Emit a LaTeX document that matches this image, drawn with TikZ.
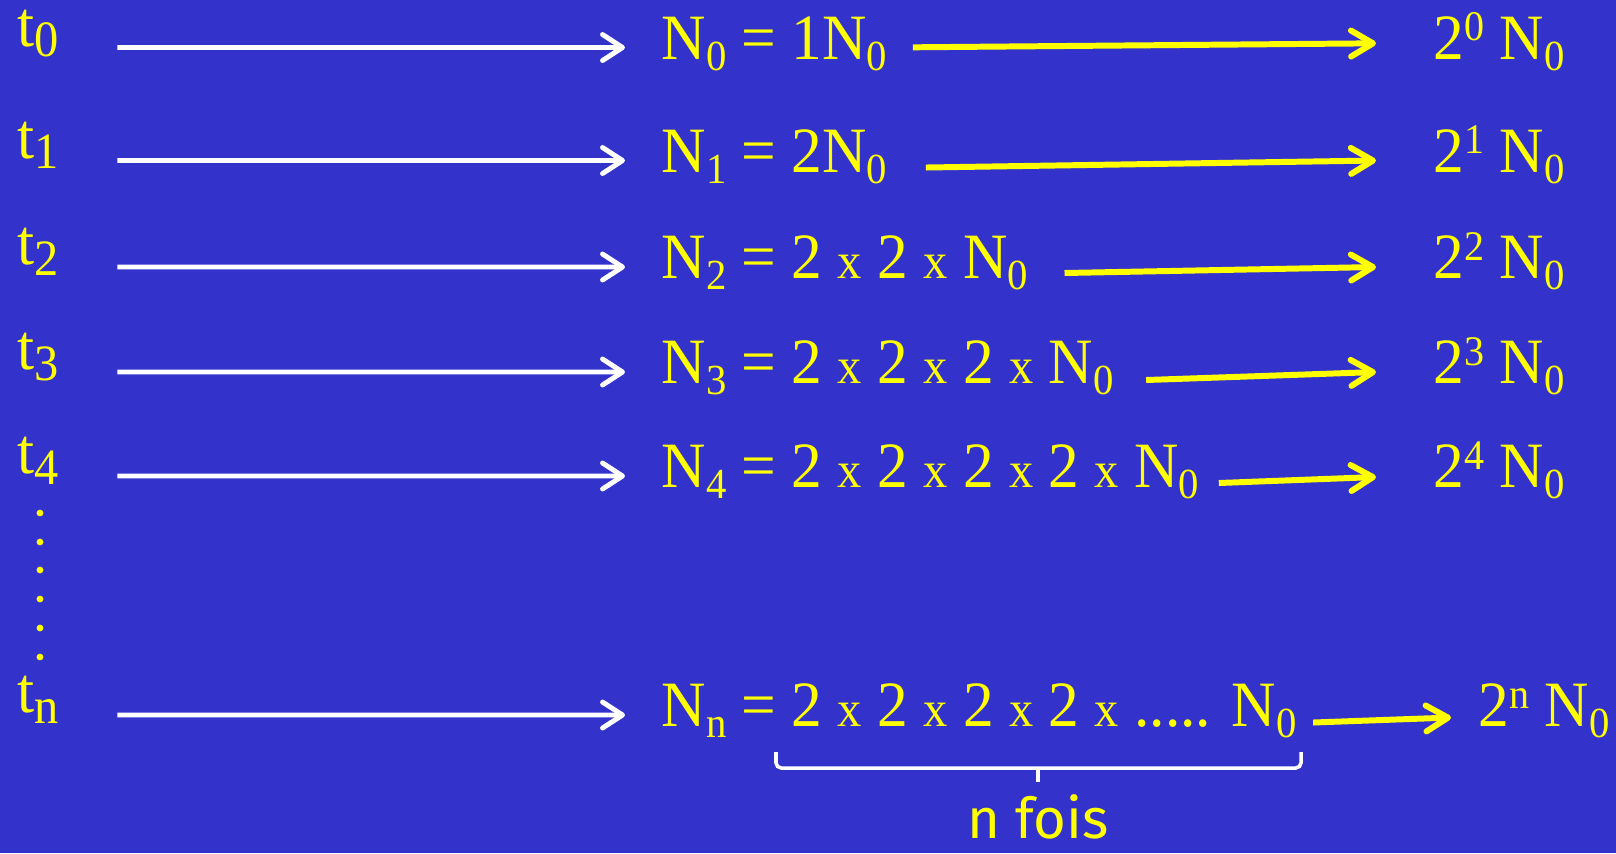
\documentclass[tikz,border=0pt]{standalone}
\usepackage{fontspec}
\setmainfont{Liberation Serif}[FakeStretch=0.95]
\newfontfamily\foisfont{Fira Sans}
\usetikzlibrary{arrows.meta,positioning}
\definecolor{slideblue}{HTML}{3333CC}
\definecolor{slideyellow}{HTML}{FFFF00}
\newcommand{\lo}[1]{\raisebox{-3.2pt}{\fontsize{12.2}{13}\selectfont #1}}
\newcommand{\tlo}[1]{\raisebox{-3.1pt}{\fontsize{14.5}{15}\selectfont #1}}
\newcommand{\hi}[1]{\raisebox{5.2pt}{\fontsize{12}{13}\selectfont #1}}
\newcommand{\tms}{{\fontsize{14.5}{15}\selectfont x}}

\begin{document}
\begin{tikzpicture}[
  txt/.style={anchor=base west, inner sep=0pt, text=slideyellow,
              font=\fontsize{18.4}{22}\selectfont},
  time/.style={txt, text width=5.5mm, align=left},
  warrow/.style={-{Straight Barb[length=2mm,width=2.6mm,round]}, line width=1.4pt,
                 draw=white},
  yarrow/.style={-{Straight Barb[length=2.2mm,width=2.6mm,round]}, line width=1.7pt,
                 draw=slideyellow},
  bracket/.style={draw=white, line width=1pt, rounded corners=1.5pt},
]
  \useasboundingbox (0,0) rectangle (16.16,-8.53);
  \fill[slideblue] (0,0) rectangle (16.16,-8.53);

  % Time steps.
  \node[time] (t0) at (0.17,-0.46) {t\tlo{0}};
  \node[time] (t1) at (0.17,-1.58) {t\tlo{1}};
  \node[time] (t2) at (0.17,-2.645) {t\tlo{2}};
  \node[time] (t3) at (0.17,-3.695) {t\tlo{3}};
  \node[time] (t4) at (0.17,-4.735) {t\tlo{4}};
  \node[time] (tn) at (0.17,-7.125) {t\tlo{n}};
  \fill[slideyellow] (0.40,-5.13) circle (0.034);
  \fill[slideyellow] (0.40,-5.42) circle (0.034);
  \fill[slideyellow] (0.40,-5.70) circle (0.034);
  \fill[slideyellow] (0.40,-5.99) circle (0.034);
  \fill[slideyellow] (0.40,-6.28) circle (0.034);
  \fill[slideyellow] (0.40,-6.57) circle (0.034);

  % Population after each doubling.
  \node[txt] (eq0) at (6.61,-0.59) {N\lo{0} = 1N\lo{0}};
  \node[txt] (eq1) at (6.61,-1.72) {N\lo{1} = 2N\lo{0}};
  \node[txt] (eq2) at (6.61,-2.785) {N\lo{2} = 2 \tms\ 2 \tms\ N\lo{0}};
  \node[txt] (eq3) at (6.61,-3.835) {N\lo{3} = 2 \tms\ 2 \tms\ 2 \tms\ N\lo{0}};
  \node[txt] (eq4) at (6.61,-4.875) {N\lo{4} = 2 \tms\ 2 \tms\ 2 \tms\ 2 \tms\ N\lo{0}};
  \node[txt] (eqn) at (6.61,-7.265)
    {N\lo{n} = 2 \tms\ 2 \tms\ 2 \tms\ 2 \tms\ ..... N\lo{0}};

  % Powers of two.
  \node[txt] (pow0) at (14.33,-0.59) {2\hi{0} N\lo{0}};
  \node[txt] (pow1) at (14.33,-1.72) {2\hi{1} N\lo{0}};
  \node[txt] (pow2) at (14.33,-2.785) {2\hi{2} N\lo{0}};
  \node[txt] (pow3) at (14.33,-3.835) {2\hi{3} N\lo{0}};
  \node[txt] (pow4) at (14.33,-4.875) {2\hi{4} N\lo{0}};
  \node[txt] (pown) at (14.78,-7.265) {2\hi{n} N\lo{0}};

  \draw[warrow] ([xshift=4.4mm,yshift=-0.15mm]t0.base east) -- ([xshift=-3.6mm,yshift=1.15mm]eq0.base west);
  \draw[warrow] ([xshift=4.4mm,yshift=-0.25mm]t1.base east) -- ([xshift=-3.6mm,yshift=1.15mm]eq1.base west);
  \draw[warrow] ([xshift=4.4mm,yshift=-0.25mm]t2.base east) -- ([xshift=-3.6mm,yshift=1.15mm]eq2.base west);
  \draw[warrow] ([xshift=4.4mm,yshift=-0.25mm]t3.base east) -- ([xshift=-3.6mm,yshift=1.15mm]eq3.base west);
  \draw[warrow] ([xshift=4.4mm,yshift=-0.25mm]t4.base east) -- ([xshift=-3.6mm,yshift=1.15mm]eq4.base west);
  \draw[warrow] ([xshift=4.4mm,yshift=-0.25mm]tn.base east) -- ([xshift=-3.6mm,yshift=1.15mm]eqn.base west);

  \draw[yarrow] ([xshift=2.5mm,yshift=1.17mm]eq0.base east) -- ([xshift=-5.7mm,yshift=1.57mm]pow0.base west);
  \draw[yarrow] ([xshift=3.8mm,yshift=0.45mm]eq1.base east) -- ([xshift=-5.7mm,yshift=1.15mm]pow1.base west);
  \draw[yarrow] ([xshift=3.6mm,yshift=0.55mm]eq2.base east) -- ([xshift=-5.7mm,yshift=1.15mm]pow2.base west);
  \draw[yarrow] ([xshift=3.2mm,yshift=0.35mm]eq3.base east) -- ([xshift=-5.7mm,yshift=1.15mm]pow3.base west);
  \draw[yarrow] ([xshift=1.9mm,yshift=0.45mm]eq4.base east) -- ([xshift=-5.7mm,yshift=1.05mm]pow4.base west);
  \draw[yarrow] ([xshift=1.6mm,yshift=0.4mm]eqn.base east) -- ([xshift=-2.7mm,yshift=0.9mm]pown.base west);

  % Brace under the product.
  \coordinate (bl) at (7.76,-7.52);
  \coordinate (br) at (13.01,-7.52);
  \coordinate (bm) at (10.38,-7.68);
  \node[anchor=base, inner sep=0pt, text=slideyellow,
        font=\foisfont\fontsize{16}{18}\selectfont] (fois) at (10.38,-8.38) {n fois};
  \draw[bracket] (bl) |- (bm) -| (br);
  \draw[bracket] (bm) -- ++(0,-0.14);
\end{tikzpicture}
\end{document}
